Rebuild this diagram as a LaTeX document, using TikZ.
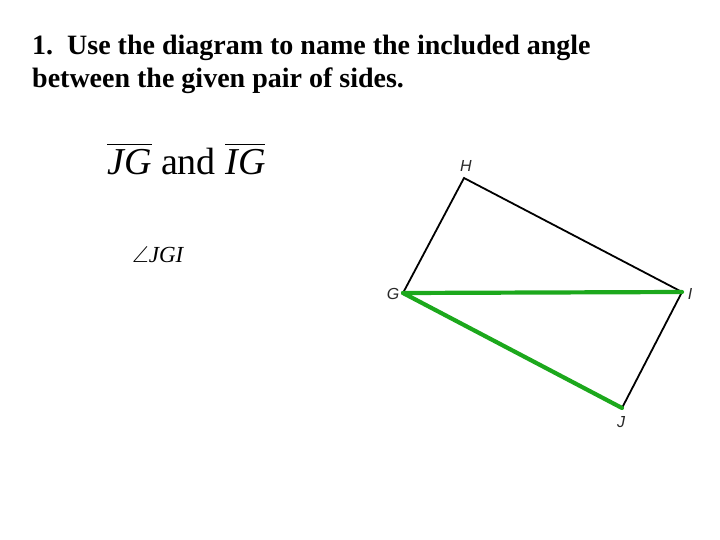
\documentclass[tikz,border=0pt]{standalone}
\usepackage{fontspec}
\setmainfont{Liberation Serif}
\newfontfamily\lblfont{Liberation Sans}
\usepackage{amssymb}
\definecolor{segGreen}{RGB}{28,168,28}
\definecolor{lblGray}{RGB}{40,40,40}
\begin{document}
\begin{tikzpicture}[x=1pt,y=-1pt,
  lbl/.style={font=\lblfont\itshape\fontsize{16}{16}\selectfont,text=lblGray,inner sep=0pt},
  titletext/.style={anchor=base west,inner sep=0pt,font=\bfseries\fontsize{28}{28}\selectfont},
  side/.style={draw=black,line width=1.8pt},
  given/.style={draw=segGreen,line width=4.2pt,line cap=round}]
\useasboundingbox (0,0) rectangle (720,540);
\node[titletext] (title1) at (32,55) {1.\ \ Use the diagram to name the included angle};
\node[titletext] (title2) at (32,88) {between the given pair of sides.};
\node[anchor=base west,inner sep=0pt,font=\fontsize{38}{38}\selectfont] (pair) at (107,175)
  {$\overline{\mbox{\textit{JG}}}$ and $\overline{\mbox{\textit{IG}}}$};
\node[anchor=base west,inner sep=0pt,font=\fontsize{23}{23}\selectfont] (ans) at (132,262)
  {$\angle$\textit{JGI}};
\coordinate (H) at (464,178);
\coordinate (G) at (403,293);
\coordinate (I) at (682,292);
\coordinate (J) at (622,408);
\draw[side] (G) -- (H) -- (I) -- (J);
\draw[given] (G) -- (I);
\draw[given] (G) -- (J);
\node[lbl] (Hl) at (466,166) {H};
\node[lbl] (Gl) at (393,294) {G};
\node[lbl] (Il) at (690,294) {I};
\node[lbl] (Jl) at (621,422) {J};
\end{tikzpicture}
\end{document}
